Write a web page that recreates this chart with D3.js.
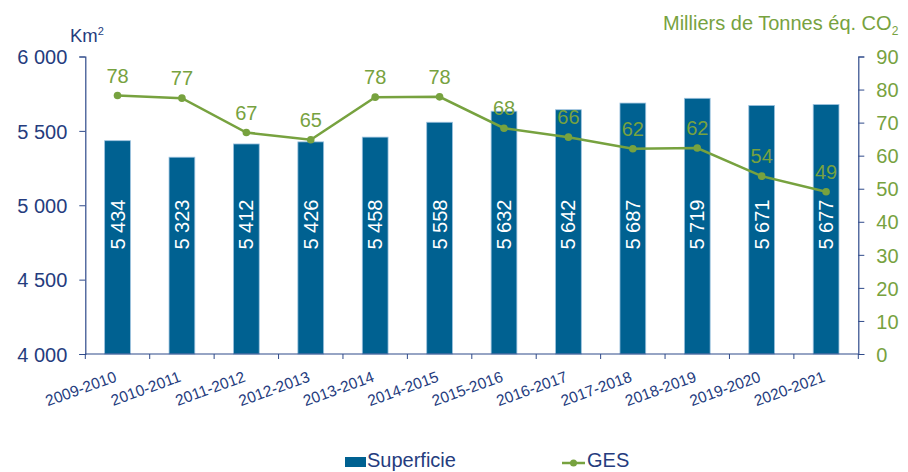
<!DOCTYPE html>
<html><head><meta charset="utf-8">
<script src="https://cdn.jsdelivr.net/npm/d3@7"></script>
<style>body{margin:0;background:#fff}svg{display:block;font-family:"Liberation Sans",Arial,sans-serif}</style>
</head><body>
<svg id="c" width="908" height="472"></svg>
<script>
const categories = ["2009-2010","2010-2011","2011-2012","2012-2013","2013-2014","2014-2015","2015-2016","2016-2017","2017-2018","2018-2019","2019-2020","2020-2021"];
const superficie = [5434,5323,5412,5426,5458,5558,5632,5642,5687,5719,5671,5677];
const ges = [78.2,77.4,67.0,64.8,77.7,77.8,68.3,65.6,62.1,62.3,53.8,49.1];
const leftTicks = [4000,4500,5000,5500,6000];
const rightTicks = [0,10,20,30,40,50,60,70,80,90];

const NAVY = "#253c7e", AXIS = "#2f4a8a", BAR = "#006191", GREEN = "#77a23f";
const svg = d3.select("#c");
const L = 85.3, R = 858.3, T = 56.5, B = 354;
const x = d3.scaleBand().domain(categories).range([L, R]).paddingInner(0.6).paddingOuter(0.3);
const yL = d3.scaleLinear().domain([4000, 6000]).range([B, T]);
const yR = d3.scaleLinear().domain([0, 90]).range([B, T]);
const fmt = v => d3.format(",")(v).replace(/,/g, " ");

// bars
svg.append("g").selectAll("rect").data(superficie).join("rect")
  .attr("x", (d,i) => x(categories[i]))
  .attr("y", d => yL(d))
  .attr("width", x.bandwidth())
  .attr("height", d => B - yL(d))
  .attr("fill", BAR).attr("stroke", "#9cc2df").attr("stroke-width", 0.8);

// bar labels
svg.append("g").selectAll("text").data(superficie).join("text")
  .attr("transform", (d,i) => `translate(${x(categories[i]) + x.bandwidth()/2 + 7},${yL(4870)}) rotate(-90)`)
  .attr("text-anchor", "middle").attr("fill", "#fff").attr("font-size", 20)
  .text(d => fmt(d));

// axes
const axL = svg.append("g").attr("transform", `translate(${L},0)`)
  .call(d3.axisLeft(yL).tickValues(leftTicks).tickSize(6).tickPadding(12).tickFormat(fmt));
axL.selectAll("text").attr("fill", NAVY).attr("font-size", 20).attr("font-family", "Liberation Sans, Arial, sans-serif").attr("dy", "0.36em");
const axR = svg.append("g").attr("transform", `translate(${R},0)`)
  .call(d3.axisRight(yR).tickValues(rightTicks).tickSize(6).tickPadding(12));
axR.selectAll("text").attr("fill", GREEN).attr("font-size", 20).attr("font-family", "Liberation Sans, Arial, sans-serif").attr("dy", "0.36em");
const bounds = d3.range(categories.length + 1).map(i => L + i * x.step());
const axB = svg.append("g");
axB.append("line").attr("x1", L).attr("x2", R).attr("y1", B).attr("y2", B).attr("stroke", AXIS).attr("stroke-width", 1.2);
axB.selectAll("line.t").data(bounds).join("line").attr("class","t")
  .attr("x1", d => d).attr("x2", d => d).attr("y1", B).attr("y2", B + 5).attr("stroke", AXIS);
axB.selectAll("text").data(categories).join("text")
  .attr("transform", d => `translate(${x(d) + x.bandwidth()/2},${B + 27}) rotate(-20)`)
  .attr("text-anchor", "end").attr("fill", NAVY).attr("font-size", 15.5).text(d => d);
[axL, axR].forEach(a => { a.select(".domain").attr("stroke", AXIS).attr("stroke-width", 1.2); a.selectAll(".tick line").attr("stroke", AXIS); });

// line
const line = d3.line().x((d,i) => x(categories[i]) + x.bandwidth()/2).y(d => yR(d));
svg.append("path").datum(ges).attr("d", line).attr("fill", "none").attr("stroke", GREEN).attr("stroke-width", 2.5);
svg.append("g").selectAll("circle").data(ges).join("circle")
  .attr("cx", (d,i) => x(categories[i]) + x.bandwidth()/2).attr("cy", d => yR(d)).attr("r", 3.8).attr("fill", GREEN);
svg.append("g").selectAll("text").data(ges).join("text")
  .attr("x", (d,i) => x(categories[i]) + x.bandwidth()/2).attr("y", d => yR(d) - 13)
  .attr("text-anchor", "middle").attr("fill", GREEN).attr("font-size", 20).text(d => d3.format(".0f")(d));

// titles
const kt = svg.append("text").attr("x", 70).attr("y", 41.5).attr("fill", NAVY).attr("font-size", 18.5);
kt.append("tspan").text("Km");
kt.append("tspan").attr("font-size", 11).attr("dy", -7).text("2");
const rt = svg.append("text").attr("x", 663).attr("y", 30).attr("fill", GREEN).attr("font-size", 20);
rt.append("tspan").text("Milliers de Tonnes éq. CO");
rt.append("tspan").attr("font-size", 12).attr("dy", 5).text("2");

// legend
svg.append("rect").attr("x", 345).attr("y", 457).attr("width", 21).attr("height", 10).attr("fill", BAR);
svg.append("text").attr("x", 367).attr("y", 467).attr("fill", NAVY).attr("font-size", 20).text("Superficie");
svg.append("line").attr("x1", 562).attr("x2", 585).attr("y1", 463).attr("y2", 463).attr("stroke", GREEN).attr("stroke-width", 2.5);
svg.append("circle").attr("cx", 573.5).attr("cy", 463).attr("r", 3.5).attr("fill", GREEN);
svg.append("text").attr("x", 587).attr("y", 467).attr("fill", NAVY).attr("font-size", 20).text("GES");
</script>
</body></html>
